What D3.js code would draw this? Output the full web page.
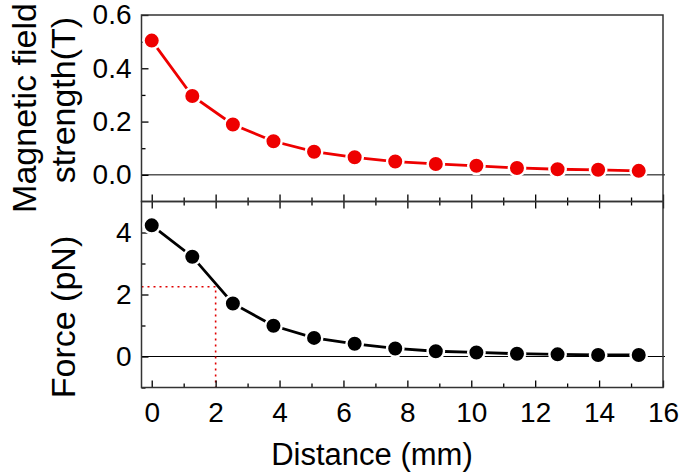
<!DOCTYPE html>
<html><head><meta charset="utf-8">
<script src="https://cdn.jsdelivr.net/npm/d3@7"></script>
<style>html,body{margin:0;padding:0;background:#fff}svg{display:block}text{font-family:"Liberation Sans",Arial,sans-serif;fill:#000}</style>
</head><body><svg id="c" width="680" height="476"></svg>
<script>
const distance = [0, 1.27, 2.54, 3.81, 5.08, 6.35, 7.62, 8.89, 10.16, 11.43, 12.70, 13.97, 15.24];
const fieldT = [0.504, 0.296, 0.189, 0.126, 0.087, 0.066, 0.050, 0.041, 0.034, 0.026, 0.021, 0.019, 0.015];
const forcePN = [4.23, 3.22, 1.71, 0.99, 0.60, 0.41, 0.26, 0.17, 0.13, 0.09, 0.07, 0.05, 0.05];
const xTicks = [0, 2, 4, 6, 8, 10, 12, 14, 16];
const fieldTicks = [0.0, 0.2, 0.4, 0.6];
const forceTicks = [0, 2, 4];
const marker = {x: 2, y: 2.25};

const svg = d3.select("#c");
const L = 141.5, R = 663, T1 = 15, B1 = 201.5, T2 = 201.5, B2 = 387.5;
const x = d3.scaleLinear().domain([-0.32, 16]).range([L, R]);
const y1 = d3.scaleLinear().domain([-0.1, 0.6]).range([B1, T1]);
const y2 = d3.scaleLinear().domain([-1, 5]).range([B2, T2]);
const fs = 28;

function styleAxis(g){
  g.select(".domain").remove();
  g.selectAll(".tick line").attr("stroke","#000").attr("stroke-width",1.3);
  g.selectAll(".tick text").style("font-size", fs+"px").attr("fill","#000");
}

function frame(top,bottom){
  svg.append("rect").attr("x",L).attr("y",top).attr("width",R-L).attr("height",bottom-top)
    .attr("fill","none").attr("stroke","#333").attr("stroke-width",1.5);
}

svg.append("line").attr("x1",L).attr("x2",R+2).attr("y1",y1(0)).attr("y2",y1(0)).attr("stroke","#000").attr("stroke-width",1);
svg.append("line").attr("x1",L).attr("x2",R+2).attr("y1",y2(0)).attr("y2",y2(0)).attr("stroke","#000").attr("stroke-width",1);

svg.append("path")
  .attr("d", `M${L},${y2(marker.y)}H${x(marker.x)}V${B2}`)
  .attr("fill","none").attr("stroke","#e00000").attr("stroke-width",1.6).attr("stroke-dasharray","2,4");

const xMinor = d3.range(1, 16, 2);
function xAxis(yPos, dirTop, vals, size, fmt){
  const ax = (dirTop ? d3.axisTop(x) : d3.axisBottom(x)).tickValues(vals).tickSize(size).tickFormat(fmt || "");
  const g = svg.append("g").attr("transform",`translate(0,${yPos})`).call(ax);
  styleAxis(g);
  return g;
}
xAxis(B1, true, xTicks, 7); xAxis(B1, true, xMinor, 4);
xAxis(T2, false, xTicks, 7); xAxis(T2, false, xMinor, 4);
const gx3 = xAxis(B2, true, xTicks, 7, d3.format("d"));
gx3.selectAll(".tick text").attr("y", 34).attr("dy", null);
xAxis(B2, true, xMinor, 4);

function yAxis(scale, vals, size, fmt){
  const g = svg.append("g").attr("transform",`translate(${L},0)`)
    .call(d3.axisRight(scale).tickValues(vals).tickSize(size).tickFormat(fmt || ""));
  styleAxis(g);
  g.selectAll(".tick text").attr("x",-10).attr("text-anchor","end");
  return g;
}
yAxis(y1, fieldTicks, 7, d3.format(".1f"));
yAxis(y1, [0.1,0.3,0.5], 4);
yAxis(y2, forceTicks, 7, d3.format("d"));
yAxis(y2, [-1,1,3], 4);

frame(T1,B1);
frame(T2,B2);

function series(vals, ys, color){
  const pts = distance.map((d,i)=>[x(d), ys(vals[i])]);
  svg.append("path").attr("d", d3.line()(pts)).attr("fill","none")
    .attr("stroke",color).attr("stroke-width",2.8);
  svg.append("g").selectAll("circle").data(pts).join("circle")
    .attr("cx",d=>d[0]).attr("cy",d=>d[1]).attr("r",8.2)
    .attr("fill",color).attr("stroke","#fff").attr("stroke-width",2.4);
}
series(fieldT, y1, "#ee0000");
series(forcePN, y2, "#000");

svg.append("text").attr("x", 372).attr("y", 465).attr("text-anchor","middle")
  .style("font-size","31px").text("Distance (mm)");
svg.append("text").attr("transform","translate(36,108) rotate(-90)").attr("text-anchor","middle")
  .style("font-size","34px").text("Magnetic field");
svg.append("text").attr("transform","translate(75,100) rotate(-90)").attr("text-anchor","middle")
  .style("font-size","34px").text("strength(T)");
svg.append("text").attr("transform","translate(75,317) rotate(-90)").attr("text-anchor","middle")
  .style("font-size","34px").text("Force (pN)");
</script></body></html>
